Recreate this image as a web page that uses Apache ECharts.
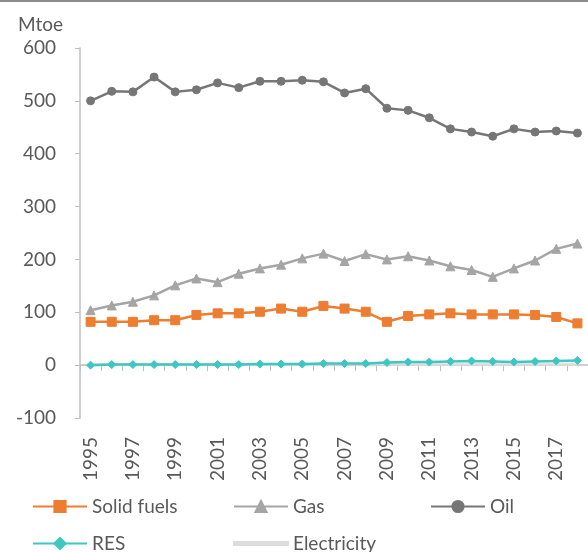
<!DOCTYPE html>
<html>
<head>
<meta charset="utf-8">
<script src="https://cdn.jsdelivr.net/npm/echarts@6/dist/echarts.min.js"></script>
<style>html,body{margin:0;padding:0;background:#fff;}#c{width:588px;height:552px;}</style>
</head>
<body>
<div id="c"></div>
<script>
const years = ['1995','1996','1997','1998','1999','2000','2001','2002','2003','2004','2005','2006','2007','2008','2009','2010','2011','2012','2013','2014','2015','2016','2017','2018'];
const solidFuels = [82,82,82,85,85,95,98,98,101,107,101,112,107,101,82,93,96,98,96,96,96,95,91,79];
const gas = [104,113,120,132,151,164,157,173,183,190,202,211,197,210,200,206,198,187,180,167,183,198,220,230];
const oil = [500,518,517,545,517,521,534,525,537,537,539,536,515,523,486,482,468,447,441,433,447,441,443,439];
const res = [0,1,1,1,1,1,1,1,2,2,2,3,3,3,5,6,6,7,8,7,6,7,8,9];
const electricity = [1,1,1,1,1,1,1,1,1,1,1,2,2,2,1,1,1,1,1,1,1,1,1,1];
const yTicks = {min:-100, max:600, interval:100};

const FONT = 'Lato';
const TXT = '#595959';
const chart = echarts.init(document.getElementById('c'), null, {renderer:'canvas'});

function line(name, data, color, symbol, size, z){
  return {
    name, type:'line', data, xAxisIndex:0, yAxisIndex:0,
    symbol, symbolSize:size, showSymbol:symbol !== 'none',
    lineStyle:{color, width:2.5},
    itemStyle:{color, borderColor:color, borderWidth:1},
    z: z, animation:false
  };
}

function leg(item, left, top, extra){
  return Object.assign({
    orient:'horizontal', itemWidth:54, itemHeight:14, itemGap:10, padding:0,
    textStyle:{fontFamily:FONT, fontSize:19, color:TXT},
    left, top, data:[item], selectedMode:false
  }, extra || {});
}

chart.setOption({
  backgroundColor:'#fff',
  animation:false,
  graphic:[{type:'rect', shape:{x:0,y:0,width:588,height:2}, style:{fill:'#8c8c8c'}}],
  grid:{left:80, right:-8, top:48, bottom:134, containLabel:false},
  legend:[
    leg('Solid fuels', 32, 497),
    leg('Gas', 233, 497),
    leg('Oil', 430, 497),
    leg('RES', 32, 534),
    leg({name:'Electricity', icon:'rect'}, 233, 534, {itemHeight:3})
  ],
  xAxis:[
    {type:'category', data:years, boundaryGap:true,
     axisLine:{show:true, onZero:true, lineStyle:{color:'#BFBFBF', width:1.5}},
     axisTick:{show:true, interval:0, length:6, lineStyle:{color:'#BFBFBF'}},
     axisLabel:{show:false}, splitLine:{show:false}},
    {type:'category', data:years, boundaryGap:true, position:'bottom',
     axisLine:{show:false, onZero:false}, axisTick:{show:false},
     axisLabel:{show:true, interval:1, rotate:90, margin:19, fontFamily:FONT, fontSize:19, color:TXT},
     splitLine:{show:false}}
  ],
  yAxis:{
    type:'value', min:yTicks.min, max:yTicks.max, interval:yTicks.interval,
    name:'Mtoe', nameLocation:'end', nameGap:14,
    nameTextStyle:{fontFamily:FONT, fontSize:19, color:TXT, align:'right', padding:[0,17,0,0]},
    axisLine:{show:true, lineStyle:{color:'#BFBFBF', width:1.5}},
    axisTick:{show:true, length:5, lineStyle:{color:'#BFBFBF'}},
    axisLabel:{margin:24, fontFamily:FONT, fontSize:19, color:TXT},
    splitLine:{show:false}
  },
  series:[
    line('Solid fuels', solidFuels, '#ED7D31', 'rect', 9, 3),
    line('Gas', gas, '#A5A5A5', 'triangle', 9, 2),
    line('Oil', oil, '#767676', 'circle', 8, 4),
    line('Electricity', electricity, '#DCDCDC', 'none', 6, 1),
    line('RES', res, '#3CC8C0', 'diamond', 8, 5)
  ]
});
</script>
</body>
</html>
